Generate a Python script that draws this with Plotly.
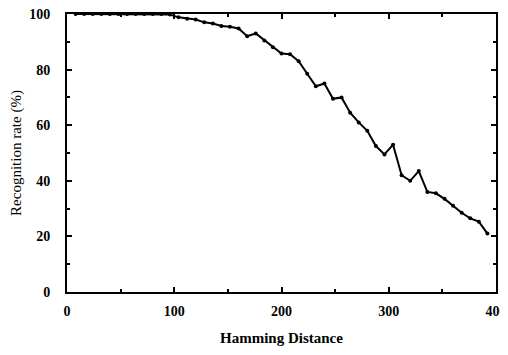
import plotly.graph_objects as go

hamming = [8, 16, 24, 32, 40, 48, 56, 64, 72, 80, 88, 96, 104, 112, 120, 128, 136, 144, 152, 160,
           168, 176, 184, 192, 200, 208, 216, 224, 232, 240, 248, 256, 264, 272, 280, 288, 296, 304,
           312, 320, 328, 336, 344, 352, 360, 368, 376, 384, 392]
rate = [100, 100, 100, 100, 100, 100, 100, 100, 100, 100, 100, 99.8, 98.8, 98.3, 98, 97, 96.6, 95.7, 95.4, 94.8,
        92, 93, 90.5, 88, 85.8, 85.5, 83, 78.5, 74, 75, 69.5, 70, 64.5, 61, 58, 52.5, 49.5, 53,
        42, 40, 43.5, 36, 35.5, 33.5, 31, 28.5, 26.5, 25.3, 21]

fig = go.Figure()
fig.add_trace(go.Scatter(
    x=hamming, y=rate, mode="lines+markers",
    line=dict(color="black", width=2),
    marker=dict(color="black", size=4),
    showlegend=False,
))

fig.update_layout(
    width=500, height=347,
    margin=dict(l=59, r=12, t=6, b=63),
    paper_bgcolor="white", plot_bgcolor="white",
    font=dict(family="Liberation Serif", size=13, color="black"),
    xaxis=dict(
        range=[0, 400], tickvals=[0, 100, 200, 300, 400],
        ticks="inside", ticklen=5, tickwidth=1.5, tickcolor="black",
        minor=dict(dtick=50, tick0=0, ticks="inside", ticklen=3, tickcolor="black"),
        showline=True, linecolor="black", linewidth=2, mirror="ticks",
        showgrid=False, zeroline=False, automargin=False,
        ticklabeloverflow="allow",
        tickfont=dict(family="Liberation Serif", size=14, color="black", weight="bold"),
        ticklabelstandoff=5,
        title=dict(text="Hamming Distance", font=dict(family="Liberation Serif", size=15, color="black", weight="bold"), standoff=15),
    ),
    yaxis=dict(
        range=[0, 100], tickvals=[0, 20, 40, 60, 80, 100],
        ticks="inside", ticklen=5, tickwidth=1.5, tickcolor="black",
        minor=dict(dtick=10, tick0=0, ticks="inside", ticklen=3, tickcolor="black"),
        showline=True, linecolor="black", linewidth=2, mirror="ticks",
        showgrid=False, zeroline=False, automargin=False,
        ticklabeloverflow="allow",
        tickfont=dict(family="Liberation Serif", size=14, color="black", weight="bold"),
        ticklabelstandoff=12,
        title=dict(text="Recognition rate (%)", font=dict(family="Liberation Serif", size=15, color="black"), standoff=7),
    ),
)

fig.write_html("out.html")
